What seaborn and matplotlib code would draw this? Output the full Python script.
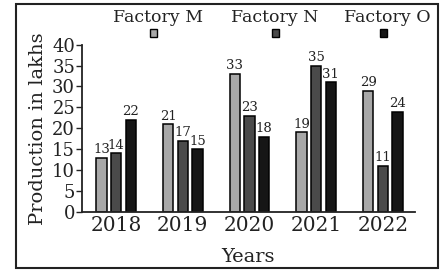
import matplotlib
matplotlib.use("Agg")
import matplotlib.pyplot as plt
import seaborn as sns
import pandas as pd
from matplotlib.patches import Rectangle

years = ["2018", "2019", "2020", "2021", "2022"]
factories = ["Factory M", "Factory N", "Factory O"]
factory_m = [13, 21, 33, 19, 29]
factory_n = [14, 17, 23, 35, 11]
factory_o = [22, 15, 18, 31, 24]
colors = ["#a8a8a8", "#4a4a4a", "#161616"]

rows = []
for f, vals in zip(factories, [factory_m, factory_n, factory_o]):
    for y, v in zip(years, vals):
        rows.append({"Year": y, "Factory": f, "Value": v})
df = pd.DataFrame(rows)

sns.set_theme(style="white")
plt.rcParams["font.family"] = ["DejaVu Serif"]

fig = plt.figure(figsize=(4.46, 2.72), dpi=100)
ax = fig.add_axes([0.184, 0.221, 0.746, 0.615])

sns.barplot(data=df, x="Year", y="Value", hue="Factory", hue_order=factories,
            palette=colors, width=0.66, gap=0.3, edgecolor="black",
            linewidth=1.1, legend=False, ax=ax, saturation=1)

for cont in ax.containers:
    ax.bar_label(cont, fmt="%d", padding=1, fontsize=9.5, color="#222222")

ax.set_ylim(0, 40)
ax.set_xlim(-0.51, 4.48)
ax.set_yticks(range(0, 41, 5))
ax.tick_params(axis="y", labelsize=13, length=4, width=1, direction="out",
               left=True, pad=1, colors="#222222")
ax.tick_params(axis="x", labelsize=14.5, length=0, pad=3, colors="#222222")
for s in ["top", "right"]:
    ax.spines[s].set_visible(False)
for s in ["left", "bottom"]:
    ax.spines[s].set_color("#222222")
    ax.spines[s].set_linewidth(1.3)
ax.set_xlabel("Years", fontsize=14, color="#222222", labelpad=9)
ax.set_ylabel("Production in lakhs", fontsize=14, color="#222222", labelpad=4)

# legend: label above a small square
leg_text_x = [158, 275, 387]
leg_mark_x = [153, 275, 383]
for f, c, tx, mx in zip(factories, colors, leg_text_x, leg_mark_x):
    fig.text(tx / 446, 1 - 18 / 272, f, ha="center", va="center",
             fontsize=12.5, color="#222222")
    fig.patches.append(Rectangle((mx / 446 - 3.5 / 446, 1 - 36.5 / 272), 7 / 446, 7 / 272,
                                 transform=fig.transFigure, facecolor=c,
                                 edgecolor="black", linewidth=1, figure=fig))

# outer frame
fig.patches.append(Rectangle((16 / 446, 4 / 272), 422 / 446, 264 / 272,
                             transform=fig.transFigure, fill=False,
                             edgecolor="#222222", linewidth=1.5, figure=fig))

fig.savefig("out.png", dpi=100)
